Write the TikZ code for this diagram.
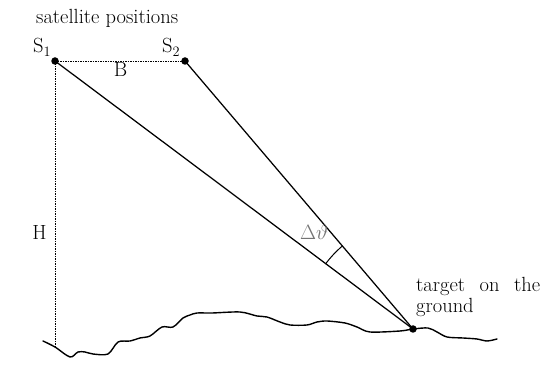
\documentclass[tikz,border=0pt]{standalone}
\usepackage{amsmath}
\usetikzlibrary{calc}
\begin{document}
\begin{tikzpicture}[x=1pt,y=1pt,
  lbl/.style={inner sep=0pt,font=\fontsize{20.5}{23}\selectfont},
  dot/.style={circle,fill=black,inner sep=0pt,minimum size=7.5pt},
  ray/.style={line width=1.25pt},
  guide/.style={line width=0.5pt,dash pattern=on 1.5pt off 1pt},
  ground/.style={line width=1.4pt,line join=round,line cap=round}]
\useasboundingbox (0,0) rectangle (554,377);
\fill[white] (0,0) rectangle (554,377);
% points
\node[dot] (s1) at (55,316) {};
\node[dot] (s2) at (185,316) {};
\node[dot] (t) at (413,48) {};
\coordinate (hb) at (55,30);
% guides
\draw[guide] (s1.center) -- (s2.center);
\draw[guide] (s1.center) -- (hb);
% rays
\draw[ray] (s1.center) -- (t.center);
\draw[ray] (s2.center) -- (t.center);
% angle arc
\draw[line width=1pt] ($(t.center)+(143.4:109)$) arc[start angle=143.4,end angle=130.6,radius=109];
% ground
\draw[ground] plot[smooth,tension=0.5] coordinates {
 (43,36) (55,30) (70,20) (78,25) (85,25) (93,23) (108,23) (118,35) (130,36)
 (140,39) (150,41) (162,50) (173,50) (183,59) (190,62) (197,64) (212,64)
 (240,65) (257,61) (267,60) (280,55) (290,52) (307,52)
 (317,55) (327,56) (345,54) (357,50) (370,45) (400,46) (413,48)
 (428,49) (437,45) (447,40) (463,39) (477,38) (487,36) (497,38)};
% labels
\node[lbl,anchor=base west] (title) at (36,353) {satellite positions};
\node[lbl,anchor=base west] (ls1) at (33,324) {S\textsubscript{1}};
\node[lbl,anchor=base west] (ls2) at (162,324) {S\textsubscript{2}};
\node[lbl,anchor=base] (lb) at (120.5,300) {B};
\node[lbl,anchor=base] (lh) at (39.5,137) {H};
\node[lbl,anchor=base,text=black!55] (ld) at (314,137) {$\Delta\vartheta$};
\node[lbl,anchor=base west] (lt1) at (416,85) {\makebox[124pt][s]{target on the}};
\node[lbl,anchor=base west] (lt2) at (416,64) {ground};
\end{tikzpicture}
\end{document}
